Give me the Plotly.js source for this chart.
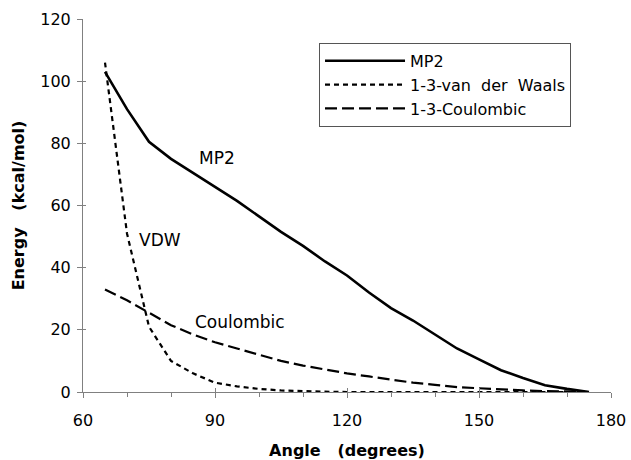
<!DOCTYPE html>
<html>
<head>
<meta charset="utf-8">
<script src="https://cdn.plot.ly/plotly-3.0.1.min.js"></script>
<style>html,body{margin:0;padding:0;background:#fff;}#chart{width:631px;height:460px;}</style>
</head>
<body>
<div id="chart"></div>
<script>
var angle = [65, 70, 75, 80, 85, 90, 95, 100, 105, 110, 115, 120, 125, 130, 135, 140, 145, 150, 155, 160, 165, 170, 175];
var mp2 = [103, 91, 80.5, 75, 70.5, 66, 61.5, 56.5, 51.5, 47, 42, 37.5, 32, 27, 23, 18.5, 14, 10.5, 7, 4.5, 2.2, 1, 0];
var vdw = [106, 51, 21, 10, 6, 3, 1.8, 1, 0.5, 0.2, 0.1, 0, 0, 0, 0, 0, 0, 0, 0, 0, 0, 0, 0];
var coul = [33, 29.5, 25.5, 21.5, 18.5, 16, 14, 12, 10, 8.5, 7.2, 6, 5, 4, 3, 2.3, 1.6, 1.2, 0.8, 0.5, 0.3, 0.1, 0];
var seriesNames = ["MP2", "1-3-van\u00a0 der\u00a0 Waals", "1-3-Coulombic"];
var xTicks = [60, 90, 120, 150, 180];
var yTicks = [0, 20, 40, 60, 80, 100, 120];
var labels = [
  {text: "MP2", x: 90.5, y: 75.3},
  {text: "VDW", x: 77.5, y: 49},
  {text: "Coulombic", x: 95.7, y: 22.6}
];

var font = "DejaVu Sans, Liberation Sans, Arial, sans-serif";
var traces = [
  {x: angle, y: mp2, name: seriesNames[0], mode: "lines", line: {color: "#000", width: 2.6}},
  {x: angle, y: vdw, name: seriesNames[1], mode: "lines", line: {color: "#000", width: 2.2, dash: "5px,4px"}},
  {x: angle, y: coul, name: seriesNames[2], mode: "lines", line: {color: "#000", width: 2.2, dash: "12px,5px"}}
];

var axisCommon = {showgrid: false, zeroline: false, showline: true, linecolor: "#808080", linewidth: 1,
  ticks: "outside", ticklen: 5, tickcolor: "#808080", tickwidth: 1,
  tickfont: {family: font, size: 16, color: "#000"}};

var layout = {
  width: 631, height: 460,
  margin: {l: 83, r: 20, t: 19, b: 68},
  paper_bgcolor: "#fff", plot_bgcolor: "#fff",
  showlegend: true,
  legend: {x: 0.447, y: 0.936, xanchor: "left", yanchor: "top", bordercolor: "#555", borderwidth: 1,
    bgcolor: "#fff", font: {family: font, size: 16, color: "#000"}, itemwidth: 80},
  xaxis: Object.assign({}, axisCommon, {range: [60, 180], tickvals: xTicks, ticktext: xTicks.map(String),
    ticklabelstandoff: 9,
    minor: {tickvals: [70, 80, 100, 110, 130, 140, 160, 170], ticks: "outside", ticklen: 4, tickcolor: "#808080"},
    title: {text: "Angle   (degrees)", font: {family: font, size: 16, color: "#000", weight: "bold"}, standoff: 16}}),
  yaxis: Object.assign({}, axisCommon, {range: [0, 120], tickvals: yTicks, ticktext: yTicks.map(String),
    ticklabelstandoff: 3,
    title: {text: "Energy   (kcal/mol)", font: {family: font, size: 16, color: "#000", weight: "bold"}, standoff: 11}}),
  xaxis2: {overlaying: "x", anchor: "y", range: [60, 180], tickvals: xTicks, ticks: "inside", ticklen: 4,
    tickcolor: "#808080", showticklabels: false, showgrid: false, zeroline: false, showline: false},
  yaxis2: {overlaying: "y", anchor: "x", range: [0, 120], tickvals: yTicks, ticks: "inside", ticklen: 3,
    tickcolor: "#808080", showticklabels: false, showgrid: false, zeroline: false, showline: false},
  annotations: labels.map(function (l) {
    return {text: l.text, x: l.x, y: l.y, xref: "x", yref: "y", showarrow: false,
      font: {family: font, size: 17, color: "#000"}};
  })
};

traces.push({x: [60], y: [0], xaxis: "x2", yaxis: "y2", mode: "markers", marker: {opacity: 0}, showlegend: false, hoverinfo: "skip"});

Plotly.newPlot("chart", traces, layout, {staticPlot: true, displayModeBar: false});
</script>
</body>
</html>
